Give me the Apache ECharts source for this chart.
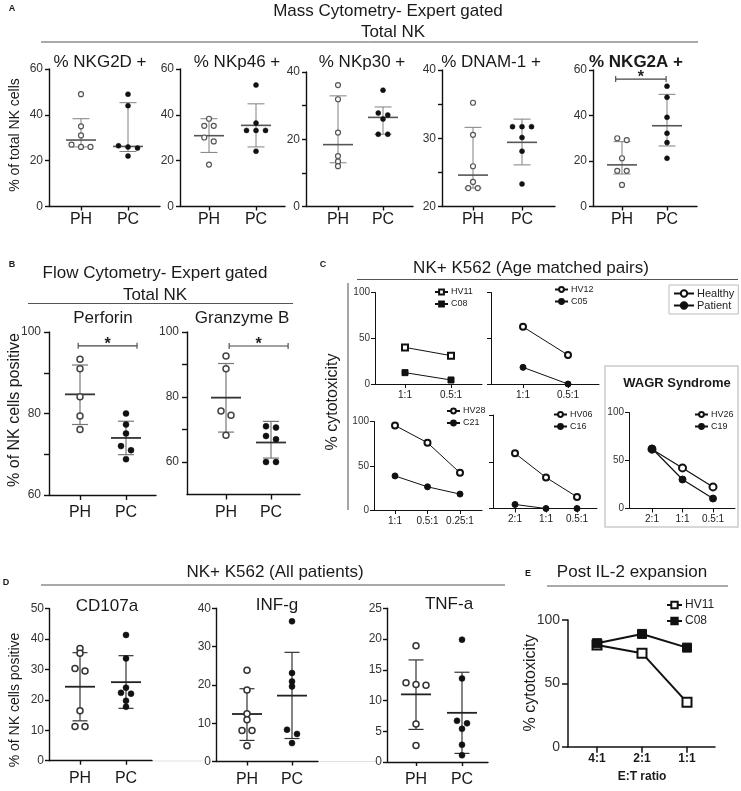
<!DOCTYPE html>
<html><head><meta charset="utf-8">
<script src="https://cdn.jsdelivr.net/npm/echarts@6/dist/echarts.min.js"></script>
<style>html,body{margin:0;padding:0;background:#fff}#c{width:741px;height:791px}</style>
</head><body><div id="c"></div>
<script>
// ================= DATA =================
const groupLabels = ['PH', 'PC'];
// Panel A – Mass cytometry (% of total NK cells)
const aTitles = ['% NKG2D +', '% NKp46 +', '% NKp30 +', '% DNAM-1 +', '% NKG2A +'];
const nkg2dPH = [49, 35, 31, 27, 26, 26];
const nkg2dPC = [49, 44, 26.5, 25.5, 26, 22];
const nkg2dMid = [29, 26.2], nkg2dLow = [26, 24], nkg2dHigh = [38.3, 45.3];
const nkp46PH = [38.3, 35.2, 35.2, 30.1, 28.4, 18.3];
const nkp46PC = [53, 36.4, 33.2, 33.2, 33.2, 24.1];
const nkp46Mid = [30.9, 35.4], nkp46Low = [23.6, 26], nkp46High = [38.3, 44.8];
const nkp30PH = [36.1, 31.9, 22, 15, 13.4, 12];
const nkp30PC = [34.6, 27.8, 27.2, 26, 21.5, 21.5];
const nkp30Mid = [18.4, 26.5], nkp30Low = [13, 21.5], nkp30High = [32.9, 29.6];
const dnamPH = [35.2, 30.5, 25.9, 23.6, 22.7, 22.7];
const dnamPC = [31.7, 31.7, 31.7, 30.1, 28.1, 23.3];
const dnamMid = [24.6, 29.4], dnamLow = [22.7, 26.1], dnamHigh = [31.6, 32.8];
const nkg2aPH = [30, 29.2, 21.2, 15.7, 15.7, 9.5];
const nkg2aPC = [52.9, 48, 39.2, 32.2, 28.1, 21.2];
const nkg2aMid = [18.3, 35.5], nkg2aLow = [14.3, 26.6], nkg2aHigh = [28.5, 49.3];
// Panel B – Flow cytometry (% of NK cells positive)
const bTitles = ['Perforin', 'Granzyme B'];
const perfPH = [93.3, 91, 84.1, 79.4, 76.1];
const perfPC = [80, 77.3, 75.1, 72, 71, 68.8];
const perfMid = [84.7, 74], perfLow = [77.3, 69.9], perfHigh = [91.9, 78.1];
const gzmPH = [92.6, 88.7, 75.7, 74.4, 68.2];
const gzmPC = [71, 70.6, 68, 67, 60, 60];
const gzmMid = [79.8, 66], gzmLow = [69.2, 61.2], gzmHigh = [90.3, 72.5];
// Panel C – % cytotoxicity, age matched pairs
const ratiosC1 = ['1:1', '0.5:1'];
const ratiosC3 = ['1:1', '0.5:1', '0.25:1'];
const ratiosC4 = ['2:1', '1:1', '0.5:1'];
const hv11 = [40, 31], c08 = [12.4, 4.4];
const hv12 = [62.5, 31.6], c05 = [18.2, 0];
const hv28 = [95.5, 76, 42], c21 = [38.5, 26.2, 18];
const hv06 = [59, 33.2, 12.4], c16 = [4.3, 0, 0];
const hv26 = [61.8, 42.3, 22.5], c19 = [62.5, 30.2, 10.4];
// Panel D – NK + K562 (all patients)
const dTitles = ['CD107a', 'INF-g', 'TNF-a'];
const cdPH = [36.9, 35.3, 30.3, 29.5, 16.4, 11.2, 11.2];
const cdPC = [41.3, 33.6, 24, 22.3, 22, 19.7, 17.7];
const cdMid = [24.3, 25.8], cdLow = [13.1, 17.2], cdHigh = [35.5, 34.5];
const infPH = [23.8, 18.7, 12.5, 10.9, 8.1, 8.1, 4.1];
const infPC = [36.6, 23.1, 20.9, 19.6, 8.3, 7.2, 4.8];
const infMid = [12.4, 17.2], infLow = [5.5, 6], infHigh = [19, 28.5];
const tnfPH = [18.9, 12.9, 12.6, 12.5, 6.2, 2.7];
const tnfPC = [19.9, 13.6, 6.7, 6.3, 5.4, 2.8, 1.1];
const tnfMid = [11, 8], tnfLow = [5.3, 1.4], tnfHigh = [16.6, 14.6];
// Panel E – Post IL-2 expansion
const etLabels = ['4:1', '2:1', '1:1'];
const hv11E = [80.3, 73.8, 35];
const c08E = [81.7, 89, 78.2];
// significance brackets [grid, from, to, level]
const sigMarks = [[4, -0.14, 0.98, 56], [5, -0.04, 1.24, 96.6], [6, 0.07, 1.38, 95.7]];

// ================= LAYOUT =================
const FF = "'Liberation Sans', Arial, Helvetica, sans-serif";
const PST = {
  A: {yfs: 12, xfs: 16, ym: 6, xm: 5, tick: 4, lw: 1.4},
  B: {yfs: 12, xfs: 16, ym: 8, xm: 10, tick: 5, lw: 1.4},
  C: {yfs: 10, xfs: 10, ym: 5, xm: 6, tick: 4, lw: 1},
  D: {yfs: 12, xfs: 16, ym: 5, xm: 10, tick: 4, lw: 1.4},
  E: {yfs: 14, xfs: 12, ym: 8, xm: 6, tick: 6, lw: 1.5, bold: true}
};
const LAY = [
  {p: 'A', left: 49, right: 160, top: 69, bottom: 206.5, xs: [81, 128], ymin: 0, ymax: 60, yt: [0, 20, 40, 60], yl: [0, 20, 40, 60], cats: groupLabels},
  {p: 'A', left: 180, right: 285, top: 69, bottom: 206.5, xs: [209, 256], ymin: 0, ymax: 60, yt: [0, 20, 40, 60], yl: [0, 20, 40, 60], cats: groupLabels},
  {p: 'A', left: 306, right: 413, top: 72, bottom: 206.5, xs: [338, 383], ymin: 0, ymax: 40, yt: [0, 10, 20, 30, 40], yl: [0, 20, 40], cats: groupLabels},
  {p: 'A', left: 442, right: 555, top: 70, bottom: 206.5, xs: [473, 522], ymin: 20, ymax: 40, yt: [20, 25, 30, 35, 40], yl: [20, 30, 40], cats: groupLabels},
  {p: 'A', left: 593, right: 697, top: 70, bottom: 206.5, xs: [622, 667], ymin: 0, ymax: 60, yt: [0, 20, 40, 60], yl: [0, 20, 40, 60], cats: groupLabels},
  {p: 'B', left: 49, right: 156, top: 332, bottom: 495, xs: [80, 126], ymin: 60, ymax: 100, yt: [60, 70, 80, 90, 100], yl: [60, 80, 100], cats: groupLabels},
  {p: 'B', left: 187, right: 300, top: 332, bottom: 494.5, xs: [226, 271], ymin: 50, ymax: 100, yt: [60, 70, 80, 90, 100], yl: [60, 80, 100], cats: groupLabels},
  {p: 'C', left: 375, right: 482, top: 292.5, bottom: 384, xs: [405, 451], ymin: 0, ymax: 100, yt: [0, 50, 100], yl: [0, 50, 100], cats: ratiosC1},
  {p: 'C', left: 491, right: 599, top: 292.5, bottom: 384, xs: [523, 568], ymin: 0, ymax: 100, yt: [0, 50, 100], yl: [], cats: ratiosC1},
  {p: 'C', left: 374, right: 482, top: 421.5, bottom: 510, xs: [395, 428, 460], ymin: 0, ymax: 100, yt: [0, 50, 100], yl: [0, 50, 100], cats: ratiosC3},
  {p: 'C', left: 493, right: 597, top: 415, bottom: 508.5, xs: [515, 546, 577], ymin: 0, ymax: 100, yt: [0, 50, 100], yl: [], cats: ratiosC4},
  {p: 'C', left: 629, right: 735, top: 412.5, bottom: 508.5, xs: [652, 682, 713], ymin: 0, ymax: 100, yt: [0, 50, 100], yl: [0, 50, 100], cats: ratiosC4},
  {p: 'D', left: 49, right: 152, top: 608.5, bottom: 760.7, xs: [80, 126], ymin: 0, ymax: 50, yt: [0, 10, 20, 30, 40, 50], yl: [0, 10, 20, 30, 40, 50], cats: groupLabels},
  {p: 'D', left: 216, right: 318, top: 608.3, bottom: 761.5, xs: [247, 292], ymin: 0, ymax: 40, yt: [0, 10, 20, 30, 40], yl: [0, 10, 20, 30, 40], cats: groupLabels},
  {p: 'D', left: 387, right: 488, top: 608.3, bottom: 762, xs: [416, 462], ymin: 0, ymax: 25, yt: [0, 5, 10, 15, 20, 25], yl: [0, 5, 10, 15, 20, 25], cats: groupLabels},
  {p: 'E', left: 568, right: 715, top: 620, bottom: 746.7, xs: [597, 642, 687], ymin: 0, ymax: 100, yt: [0, 50, 100], yl: [0, 50, 100], cats: etLabels}
];

const grids = [], xAxes = [], yAxes = [];
LAY.forEach((g, i) => {
  const s = PST[g.p];
  const n = g.xs.length;
  const unit = (g.xs[n - 1] - g.xs[0]) / (n - 1);
  const xmin = -(g.xs[0] - g.left) / unit;
  const xmax = (n - 1) + (g.right - g.xs[n - 1]) / unit;
  const idx = g.cats.map((c, k) => k);
  grids.push({left: g.left, top: g.top, width: g.right - g.left, height: g.bottom - g.top, containLabel: false});
  const lineSt = {color: '#111', width: s.lw};
  xAxes.push({
    type: 'value', gridIndex: i, min: xmin, max: xmax,
    axisLine: {show: true, onZero: false, lineStyle: lineSt},
    axisTick: {show: true, customValues: idx, length: s.tick, lineStyle: lineSt},
    axisLabel: {customValues: idx, formatter: v => g.cats[Math.round(v)] || '', fontSize: s.xfs, fontFamily: FF,
      color: '#1a1a1a', margin: s.xm, fontWeight: s.bold ? 'bold' : 'normal'},
    splitLine: {show: false}
  });
  yAxes.push({
    type: 'value', gridIndex: i, min: g.ymin, max: g.ymax,
    axisLine: {show: true, onZero: false, lineStyle: lineSt},
    axisTick: {show: true, customValues: g.yt, length: s.tick, lineStyle: lineSt},
    axisLabel: {show: g.yl.length > 0, customValues: g.yl, fontSize: s.yfs, fontFamily: FF, color: '#333', margin: s.ym},
    splitLine: {show: false}
  });
});

// ================= SERIES =================
const series = [];
const DOT = {
  A: {r: 2.5, lw: 1.2, gap: 9.5, thr: 4, open: '#555', fillO: '#fafafa', bar: '#808080', barLW: 1, cap: 17, mid: '#555', midW: 30, midLW: 1.6},
  B: {r: 3, lw: 1.5, gap: 10, thr: 4.8, open: '#444', fillO: '#fff', bar: '#777', barLW: 1.2, cap: 16, mid: '#333', midW: 30, midLW: 1.8},
  D: {r: 3, lw: 1.5, gap: 10, thr: 4.8, open: '#333', fillO: '#fff', bar: '#333', barLW: 1.2, cap: 15, mid: '#222', midW: 30, midLW: 1.8}
};
function dotSeries(gi, xi, vals, filled) {
  const g = LAY[gi], st = DOT[g.p];
  const pxu = (g.bottom - g.top) / (g.ymax - g.ymin);
  const order = vals.map((v, i) => i).sort((a, b) => vals[b] - vals[a]);
  const off = vals.map(() => 0);
  let cl = [order[0]];
  const flush = () => cl.forEach((k, j) => { off[k] = (j - (cl.length - 1) / 2) * st.gap; });
  for (let n = 1; n < order.length; n++) {
    const k = order[n], prev = cl[cl.length - 1];
    if ((vals[prev] - vals[k]) * pxu < st.thr) cl.push(k); else { flush(); cl = [k]; }
  }
  flush();
  return {
    type: 'custom', xAxisIndex: gi, yAxisIndex: gi, z: 5, silent: true, clip: false,
    data: vals.map((v, i) => [xi, v, off[i]]),
    renderItem: (p, api) => {
      const c = api.coord([api.value(0), api.value(1)]);
      return {type: 'circle', shape: {cx: c[0] + api.value(2), cy: c[1], r: st.r},
        style: {fill: filled ? '#111' : st.fillO, stroke: filled ? '#111' : st.open, lineWidth: filled ? 0.5 : st.lw}};
    }
  };
}
function barSeries(gi, mids, lows, highs) {
  const st = DOT[LAY[gi].p];
  return {
    type: 'custom', xAxisIndex: gi, yAxisIndex: gi, z: 3, silent: true, clip: false,
    data: mids.map((m, i) => [i, m, lows[i], highs[i]]),
    renderItem: (p, api) => {
      const x = api.value(0);
      const pm = api.coord([x, api.value(1)]), pl = api.coord([x, api.value(2)]), ph = api.coord([x, api.value(3)]);
      const cx = pm[0], cw = st.cap / 2, mw = st.midW / 2;
      const bs = {stroke: st.bar, lineWidth: st.barLW};
      return {type: 'group', children: [
        {type: 'line', shape: {x1: cx, y1: pl[1], x2: cx, y2: ph[1]}, style: bs},
        {type: 'line', shape: {x1: cx - cw, y1: pl[1], x2: cx + cw, y2: pl[1]}, style: bs},
        {type: 'line', shape: {x1: cx - cw, y1: ph[1], x2: cx + cw, y2: ph[1]}, style: bs},
        {type: 'line', shape: {x1: cx - mw, y1: pm[1], x2: cx + mw, y2: pm[1]}, style: {stroke: st.mid, lineWidth: st.midLW}}
      ]};
    }
  };
}
const dotSets = [
  [0, nkg2dPH, nkg2dPC, nkg2dMid, nkg2dLow, nkg2dHigh],
  [1, nkp46PH, nkp46PC, nkp46Mid, nkp46Low, nkp46High],
  [2, nkp30PH, nkp30PC, nkp30Mid, nkp30Low, nkp30High],
  [3, dnamPH, dnamPC, dnamMid, dnamLow, dnamHigh],
  [4, nkg2aPH, nkg2aPC, nkg2aMid, nkg2aLow, nkg2aHigh],
  [5, perfPH, perfPC, perfMid, perfLow, perfHigh],
  [6, gzmPH, gzmPC, gzmMid, gzmLow, gzmHigh],
  [12, cdPH, cdPC, cdMid, cdLow, cdHigh],
  [13, infPH, infPC, infMid, infLow, infHigh],
  [14, tnfPH, tnfPC, tnfMid, tnfLow, tnfHigh]
];
dotSets.forEach(([gi, ph, pc, mid, lo, hi]) => {
  series.push(barSeries(gi, mid, lo, hi));
  series.push(dotSeries(gi, 0, ph, false));
  series.push(dotSeries(gi, 1, pc, true));
});
sigMarks.forEach(([gi, x1, x2, y]) => {
  series.push({
    type: 'custom', xAxisIndex: gi, yAxisIndex: gi, z: 4, silent: true, clip: false,
    data: [[x1, x2, y]],
    renderItem: (p, api) => {
      const a = api.coord([api.value(0), api.value(2)]), b = api.coord([api.value(1), api.value(2)]);
      const ls = {stroke: '#444', lineWidth: 1.1};
      return {type: 'group', children: [
        {type: 'line', shape: {x1: a[0], y1: a[1], x2: b[0], y2: b[1]}, style: ls},
        {type: 'line', shape: {x1: a[0], y1: a[1] - 3, x2: a[0], y2: a[1] + 3}, style: ls},
        {type: 'line', shape: {x1: b[0], y1: b[1] - 3, x2: b[0], y2: b[1] + 3}, style: ls},
        {type: 'text', style: {text: '*', x: (a[0] + b[0]) / 2, y: a[1] - 1.5, align: 'center', verticalAlign: 'middle',
          textAlign: 'center', textVerticalAlign: 'middle', font: 'bold 16px ' + FF, fill: '#222'}}
      ]};
    }
  });
});
function lineSeries(name, gi, vals, symbol, size, width) {
  return {type: 'line', name, xAxisIndex: gi, yAxisIndex: gi, data: vals.map((v, i) => [i, v]),
    symbol, symbolSize: size, showSymbol: true, z: 5, animation: false, clip: false,
    lineStyle: {color: '#111', width}, itemStyle: {color: '#111', borderColor: '#111', borderWidth: 1}};
}
series.push(lineSeries('HV11', 7, hv11, 'emptyRect', 6, 1));
series.push(lineSeries('C08', 7, c08, 'rect', 6, 1));
series.push(lineSeries('HV12', 8, hv12, 'emptyCircle', 6, 1));
series.push(lineSeries('C05', 8, c05, 'circle', 6, 1));
series.push(lineSeries('HV28', 9, hv28, 'emptyCircle', 6, 1));
series.push(lineSeries('C21', 9, c21, 'circle', 6, 1));
series.push(lineSeries('HV06', 10, hv06, 'emptyCircle', 6, 1));
series.push(lineSeries('C16', 10, c16, 'circle', 6, 1));
series.push(lineSeries('HV26', 11, hv26, 'emptyCircle', 7, 1.2));
series.push(lineSeries('C19', 11, c19, 'circle', 7, 1.2));
series.push(lineSeries('E-HV11', 15, hv11E, 'emptyRect', 9, 2));
series.push(lineSeries('E-C08', 15, c08E, 'rect', 9, 2));
series.push(lineSeries('Healthy', 7, [], 'emptyCircle', 8, 1));
series.push(lineSeries('Patient', 7, [], 'circle', 8, 1));

function leg(data, left, top, fs, gap, extra) {
  return Object.assign({data, left, top, orient: 'vertical', itemWidth: 13, itemHeight: 6, itemGap: gap, padding: 0,
    selectedMode: false, textStyle: {fontSize: fs, fontFamily: FF, color: '#222', padding: [0, 0, 0, -2]}}, extra || {});
}
const legends = [
  leg(['HV11', 'C08'], 434, 287.5, 9, 3),
  leg(['HV12', 'C05'], 554, 285, 9, 3),
  leg(['HV28', 'C21'], 446, 406.5, 9, 3),
  leg(['HV06', 'C16'], 553, 410, 9, 3),
  leg(['HV26', 'C19'], 694, 410, 9, 3),
  leg(['E-HV11', 'E-C08'], 666, 599, 12, 4, {itemWidth: 15, itemHeight: 8, formatter: n => n.replace('E-', '')}),
  leg(['Healthy', 'Patient'], 669, 285, 11, 1, {itemWidth: 20, itemHeight: 8, padding: [3, 4, 3, 4], borderColor: '#bbb', borderWidth: 1})
];

// ================= TEXT / DECOR =================
function T(x, y, text, size, o) {
  o = o || {};
  return {type: 'text', x, y, rotation: o.rot || 0, silent: true, z: 10,
    style: {text, fill: o.color || '#1a1a1a', font: (o.bold ? 'bold ' : '') + size + 'px ' + FF,
      textAlign: o.align || 'center', textVerticalAlign: 'middle', align: o.align || 'center', verticalAlign: 'middle'}};
}
function Ln(x1, y1, x2, y2, c, w) { return {type: 'line', silent: true, shape: {x1, y1, x2, y2}, style: {stroke: c, lineWidth: w}}; }
const R = Math.PI / 2;
const graphic = [
  T(12, 9, 'A', 9, {bold: true}),
  T(388, 11, 'Mass Cytometry- Expert gated', 17),
  T(393, 32, 'Total NK', 17),
  Ln(41, 42, 698, 42, '#555', 1),
  T(15, 135, '% of total NK cells', 14, {rot: R}),
  T(100, 62, aTitles[0], 17), T(237, 62, aTitles[1], 17), T(362, 62, aTitles[2], 17),
  T(491, 62, aTitles[3], 17), T(636, 62, aTitles[4], 17, {bold: true}),

  T(12, 265, 'B', 9, {bold: true}),
  T(155, 273, 'Flow Cytometry- Expert gated', 17),
  T(155, 295, 'Total NK', 17),
  Ln(28, 303.5, 293, 303.5, '#555', 1),
  T(103, 318, bTitles[0], 17), T(242, 318, bTitles[1], 17),
  T(15, 410, '% of NK cells positive', 16, {rot: R}),

  T(323, 265, 'C', 9, {bold: true}),
  T(531, 268, 'NK+ K562 (Age matched pairs)', 17),
  Ln(357, 279.5, 738, 279.5, '#555', 1),
  Ln(348, 283, 348, 510, '#888', 1.5),
  T(333, 402, '% cytotoxicity', 16, {rot: R}),
  {type: 'rect', silent: true, shape: {x: 605, y: 366, width: 133, height: 161}, style: {fill: 'none', stroke: '#ccc', lineWidth: 1.5}},
  T(677, 383, 'WAGR Syndrome', 13, {bold: true}),

  T(6, 583, 'D', 9, {bold: true}),
  T(275, 572, 'NK+ K562 (All patients)', 17),
  Ln(41, 585, 505, 585, '#555', 1),
  Ln(152, 761, 203, 761, '#e2e2e2', 1.2),
  Ln(320, 761.5, 377, 761.5, '#e2e2e2', 1.2),
  T(107, 606, dTitles[0], 17), T(277, 605, dTitles[1], 17), T(449, 604, dTitles[2], 17),
  T(15, 700, '% of NK cells positive', 14, {rot: R}),

  T(528, 574, 'E', 9, {bold: true}),
  T(632, 572, 'Post IL-2 expansion', 17),
  Ln(547, 586, 728, 586, '#555', 1),
  T(531, 683, '% cytotoxicity', 16, {rot: R}),
  T(642, 777, 'E:T ratio', 12, {bold: true})
];

const chart = echarts.init(document.getElementById('c'), null, {renderer: 'canvas'});
chart.setOption({
  animation: false,
  backgroundColor: '#fff',
  textStyle: {fontFamily: FF},
  grid: grids, xAxis: xAxes, yAxis: yAxes,
  legend: legends,
  series,
  graphic
});
</script>
</body></html>
